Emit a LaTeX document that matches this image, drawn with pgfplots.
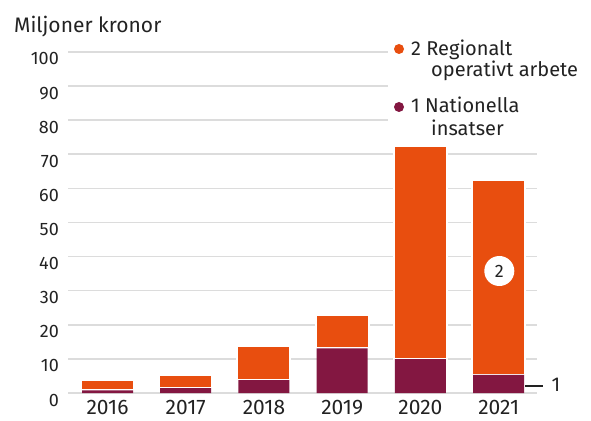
\documentclass[border=0pt]{standalone}
\usepackage{fontspec}
\setmainfont{Fira Sans}
\usepackage{pgfplots}
\pgfplotsset{compat=1.18}

\definecolor{regorange}{HTML}{E84E0F}
\definecolor{wine}{HTML}{831741}
\definecolor{gridgray}{HTML}{DCDCDC}
\definecolor{txt}{HTML}{222222}
\newcommand\fs[1]{\fontsize{#1}{#1}\selectfont}

\begin{document}
\begin{tikzpicture}[x=1pt,y=1pt]
\useasboundingbox (0,0) rectangle (591,420);
\begin{axis}[
    at={(68pt,27pt)}, anchor=south west,
    scale only axis, width=469pt, height=341pt,
    xmin=-0.505, xmax=5.49,
    ymin=0, ymax=100,
    axis line style={draw=none},
    major tick length=0pt,
    ymajorgrids,
    grid style={gridgray, line width=1.6pt},
    ytick={0,10,...,100},
    xtick={0,1,2,3,4,5},
    xticklabels={2016,2017,2018,2019,2020,2021},
    /pgf/number format/assume math mode=true,
    xticklabel style={font=\fs{21}, text=txt, anchor=north, inner sep=0pt, yshift=-7pt},
    yticklabel style={font=\fs{18}, text=txt, anchor=east, inner sep=0pt, xshift=-9pt, yshift=-7pt},
    ybar stacked,
    bar width=51pt,
    clip=false,
]
% 1 Nationella insatser
\addplot[fill=wine, draw=none] coordinates {
    (0,0.75) (1,1.4) (2,3.8) (3,13.1) (4,9.9) (5,5.3)};
% 2 Regionalt operativt arbete
\addplot[fill=regorange, draw=white, line width=2pt, bar width=53pt] coordinates {
    (0,3.05) (1,4.0) (2,10.1) (3,9.8) (4,62.5) (5,57.3)};
\end{axis}

% legend area blanks the upper grid lines
\fill[white] (388,277) rectangle (591,381);
\fill[regorange] (399,371) circle (5);
\node[anchor=base west, inner sep=0pt, text=txt, font=\fs{20}] at (411,364) {2 Regionalt};
\node[anchor=base west, inner sep=0pt, text=txt, font=\fs{20}] at (431,343) {operativt arbete};
\fill[wine] (399,313) circle (5);
\node[anchor=base west, inner sep=0pt, text=txt, font=\fs{20}] at (411,307) {1 Nationella};
\node[anchor=base west, inner sep=0pt, text=txt, font=\fs{20}] at (431,284) {insatser};

\node[anchor=base west, inner sep=0pt, text=txt, font=\fs{21}] at (14,387) {Miljoner kronor};

% markers
\fill[white] (499.3,149) circle (15);
\node[text=txt, font=\fs{18}, inner sep=0pt] at (499.3,149) {2};
\draw[txt, line width=1.3pt] (525,34) -- (543,34);
\node[anchor=base, inner sep=0pt, text=txt, font=\fs{20}] at (556,29) {1};
\end{tikzpicture}
\end{document}
